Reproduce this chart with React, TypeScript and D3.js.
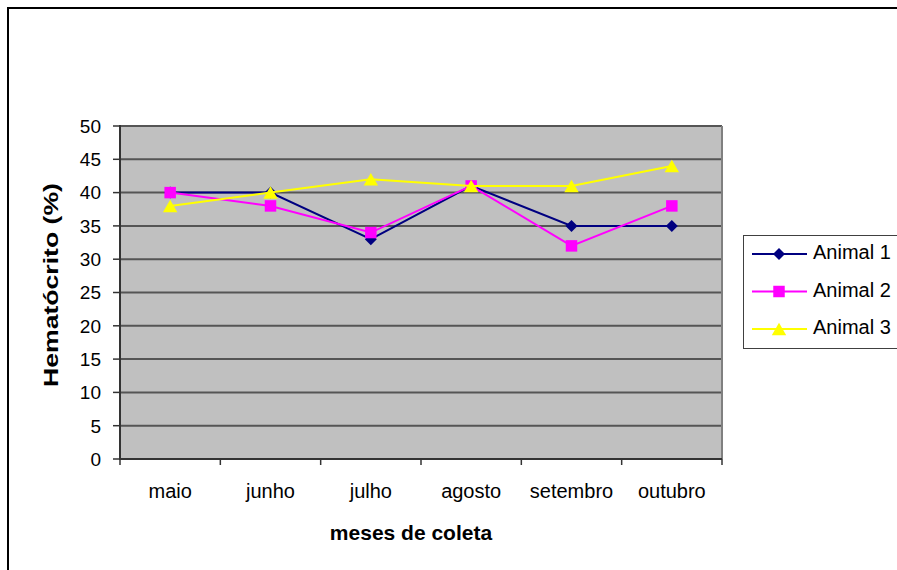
import * as d3 from "d3";

const MESES = ["maio", "junho", "julho", "agosto", "setembro", "outubro"];
const ANIMAL_1 = [40, 40, 33, 41, 35, 35];
const ANIMAL_2 = [40, 38, 34, 41, 32, 38];
const ANIMAL_3 = [38, 40, 42, 41, 41, 44];
const Y_TICKS = [0, 5, 10, 15, 20, 25, 30, 35, 40, 45, 50];

const SERIES = [
  { name: "Animal 1", values: ANIMAL_1, color: "#000080", marker: "diamond" },
  { name: "Animal 2", values: ANIMAL_2, color: "#FF00FF", marker: "square" },
  { name: "Animal 3", values: ANIMAL_3, color: "#FFFF00", marker: "triangle" },
];

const W = 897, H = 570;
const PLOT = { left: 120, right: 722, top: 126, bottom: 459 };
const FONT = "'Liberation Sans', Arial, sans-serif";

const x = d3.scaleBand<string>().domain(MESES).range([PLOT.left, PLOT.right]).padding(0);
const y = d3.scaleLinear().domain([0, 50]).range([PLOT.bottom, PLOT.top]);

const line = d3.line<number>()
  .x((_, i) => x(MESES[i])! + x.bandwidth() / 2)
  .y(d => y(d));

const TRI = 90; // triangle area
const triH = Math.sqrt((TRI * 4) / Math.sqrt(3)) * Math.sqrt(3) / 2;

function Marker({ type, cx, cy, color }: { type: string; cx: number; cy: number; color: string }) {
  if (type === "diamond") {
    return <path d={d3.symbol(d3.symbolSquare, 72)()!} transform={`translate(${cx},${cy}) rotate(45)`} fill={color} />;
  }
  if (type === "square") {
    return <path d={d3.symbol(d3.symbolSquare, 132)()!} transform={`translate(${cx},${cy})`} fill={color} />;
  }
  return <path d={d3.symbol(d3.symbolTriangle, TRI)()!} transform={`translate(${cx},${cy + triH / 6})`} fill={color} />;
}

export default function App() {
  const boundaries = [...MESES.map(m => x(m)!), PLOT.right];
  const legendRows = [254, 291.5, 329];

  return (
    <svg width={W} height={H} style={{ position: "absolute", left: 0, top: 0, background: "#fff" }} fontFamily={FONT}>
      {/* chart area border */}
      <rect x={8} y={8} width={1000} height={1000} fill="#fff" stroke="#000" strokeWidth={2} />

      {/* plot area */}
      <rect x={PLOT.left} y={PLOT.top} width={PLOT.right - PLOT.left} height={PLOT.bottom - PLOT.top} fill="#C0C0C0" />
      {Y_TICKS.filter(t => t > 0).map(t => (
        <line key={t} x1={PLOT.left} x2={PLOT.right} y1={y(t)} y2={y(t)} stroke="#555" strokeWidth={2} />
      ))}
      <line x1={PLOT.right} x2={PLOT.right} y1={PLOT.top} y2={PLOT.bottom} stroke="#808080" strokeWidth={2} />

      {/* y axis */}
      <line x1={PLOT.left} x2={PLOT.left} y1={PLOT.top - 1} y2={PLOT.bottom + 1} stroke="#333" strokeWidth={2} />
      {Y_TICKS.map(t => (
        <g key={t}>
          <line x1={PLOT.left - 7} x2={PLOT.left} y1={y(t)} y2={y(t)} stroke="#333" strokeWidth={1.5} />
          <text x={101} y={y(t)} dy="0.36em" textAnchor="end" fontSize={19} fill="#000">{t}</text>
        </g>
      ))}

      {/* x axis */}
      <line x1={PLOT.left} x2={PLOT.right} y1={PLOT.bottom} y2={PLOT.bottom} stroke="#333" strokeWidth={2} />
      {boundaries.map((b, i) => (
        <line key={i} x1={b} x2={b} y1={PLOT.bottom} y2={PLOT.bottom + 6} stroke="#333" strokeWidth={1.5} />
      ))}
      {MESES.map(m => (
        <text key={m} x={x(m)! + x.bandwidth() / 2} y={498} textAnchor="middle" fontSize={20} fill="#000">{m}</text>
      ))}

      {/* axis titles */}
      <text x={411} y={540} textAnchor="middle" fontSize={21} fontWeight="bold" fill="#000">meses de coleta</text>
      <text transform="translate(57.5,285) rotate(-90)" textAnchor="middle" fontSize={21} fontWeight="bold" fill="#000"
        textLength={204} lengthAdjust="spacingAndGlyphs">Hematócrito (%)</text>

      {/* series */}
      {SERIES.map(s => (
        <g key={s.name}>
          <path d={line(s.values)!} fill="none" stroke={s.color} strokeWidth={2} />
          {s.values.map((v, i) => (
            <Marker key={i} type={s.marker} cx={x(MESES[i])! + x.bandwidth() / 2} cy={y(v)} color={s.color} />
          ))}
        </g>
      ))}

      {/* legend */}
      <rect x={743.5} y={235.5} width={200} height={113} fill="#fff" stroke="#404040" strokeWidth={1} />
      {SERIES.map((s, i) => (
        <g key={s.name}>
          <line x1={752} x2={807} y1={legendRows[i]} y2={legendRows[i]} stroke={s.color} strokeWidth={2} />
          <Marker type={s.marker} cx={779} cy={legendRows[i]} color={s.color} />
          <text x={813} y={legendRows[i] + 5} fontSize={20} fill="#000">{s.name}</text>
        </g>
      ))}
    </svg>
  );
}
